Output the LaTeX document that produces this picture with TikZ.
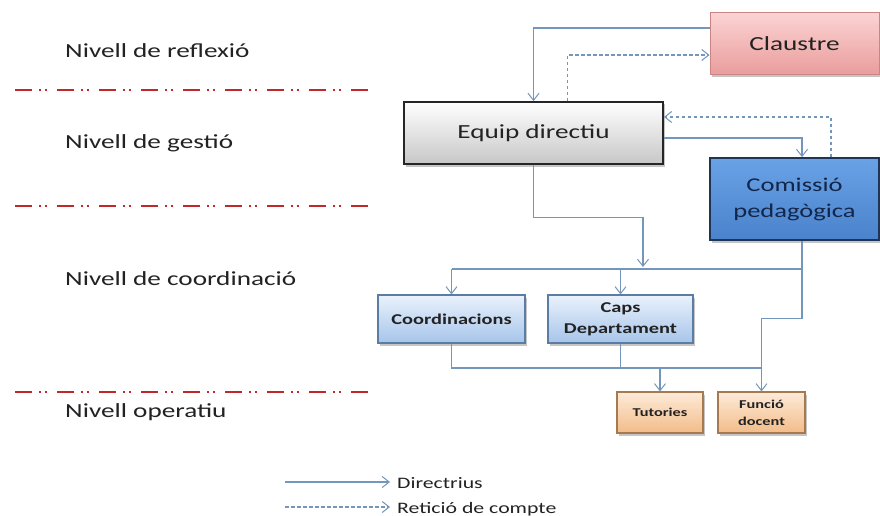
\documentclass[tikz,border=0pt]{standalone}
\usepackage{fontspec}
\setmainfont{Carlito}[FakeStretch=1.36]
\usetikzlibrary{arrows.meta,shadows,calc}
\definecolor{conn}{HTML}{7396BA}
\definecolor{redline}{HTML}{C0282A}
\definecolor{txt}{HTML}{222222}
\definecolor{HTML-C98585}{HTML}{C98585}
\definecolor{HTML-1E3556}{HTML}{1E3556}
\definecolor{HTML-13264A}{HTML}{13264A}
\definecolor{HTML-5B7CA3}{HTML}{5B7CA3}
\definecolor{HTML-A67A4E}{HTML}{A67A4E}
\definecolor{PinkTop}{HTML}{FBD3D3}
\definecolor{PinkBot}{HTML}{EA9C9C}
\definecolor{BlueTop}{HTML}{6AA2E6}
\definecolor{BlueBot}{HTML}{4A82CC}
\definecolor{LBTop}{HTML}{EAF2FC}
\definecolor{LBBot}{HTML}{A6C4EA}
\definecolor{PeachTop}{HTML}{FDEBD9}
\definecolor{PeachBot}{HTML}{F2BC88}
\tikzset{
  lvl/.style={anchor=base west,inner sep=0pt,text=txt,font=\fontsize{20}{24}\selectfont},
  sep/.style={draw=redline,line width=1.8pt,dash pattern=on 17pt off 7pt on 2pt off 4pt on 2pt off 10pt},
  boxbase/.style={rectangle,inner sep=0pt,align=center,drop shadow={shadow xshift=2pt,shadow yshift=-2.5pt,opacity=0.45}},
  pinkbox/.style={boxbase,draw=HTML-C98585,line width=1pt,top color=PinkTop,bottom color=PinkBot,text=txt,font=\fontsize{20}{24}\selectfont},
  graybox/.style={boxbase,draw=black!85,line width=1.8pt,top color=white,bottom color=black!22,text=txt,font=\fontsize{20}{24}\selectfont},
  bluebox/.style={boxbase,draw=HTML-1E3556,line width=1.8pt,top color=BlueTop,bottom color=BlueBot,text=HTML-13264A,font=\fontsize{19.5}{26}\selectfont},
  lbluebox/.style={boxbase,draw=HTML-5B7CA3,line width=1.2pt,top color=LBTop,bottom color=LBBot,text=txt,font=\bfseries\fontsize{15}{21}\selectfont},
  peachbox/.style={boxbase,draw=HTML-A67A4E,line width=1.2pt,top color=PeachTop,bottom color=PeachBot,text=txt,font=\bfseries\fontsize{12}{17}\selectfont},
  conline/.style={draw=conn,line width=1.1pt},
  arr/.style={conline,-{Straight Barb[length=7pt,width=11pt,line width=1pt]}},
  darr/.style={arr,dash pattern=on 3.5pt off 2.5pt},
  legtxt/.style={anchor=base west,inner sep=0pt,text=txt,font=\fontsize{16}{19}\selectfont}
}
\begin{document}
\begin{tikzpicture}[x=1pt,y=-1pt]
\useasboundingbox[fill=white] (0,0) rectangle (880,516);

% level labels
\node[lvl] (lv1) at (65,58) {Nivell de reflexió};
\node[lvl] (lv2) at (65,148) {Nivell de gestió};
\node[lvl] (lv3) at (65,285) {Nivell de coordinació};
\node[lvl] (lv4) at (65,417) {Nivell operatiu};

% separators
\coordinate (s1a) at (15,90);  \coordinate (s1b) at (374,90);
\coordinate (s2a) at (15,206); \coordinate (s2b) at (374,206);
\coordinate (s3a) at (15,392); \coordinate (s3b) at (374,392);
\draw[sep] (s1a) -- (s1b);
\draw[sep] (s2a) -- (s2b);
\draw[sep] (s3a) -- (s3b);

% boxes
\node[pinkbox,minimum width=169pt,minimum height=62pt] (claustre) at (794.5,44) {Claustre};
\node[graybox,minimum width=259pt,minimum height=62pt] (equip) at (533.5,133) {Equip directiu};
\node[bluebox,minimum width=169pt,minimum height=82pt] (comissio) at (794.5,199) {Comissió\\pedagògica};
\node[lbluebox,minimum width=147pt,minimum height=48pt] (coord) at (451.5,319) {Coordinacions};
\node[lbluebox,minimum width=145pt,minimum height=48pt] (caps) at (620.5,319) {Caps\\Departament};
\node[peachbox,minimum width=86pt,minimum height=41pt] (tut) at (660,412.5) {Tutories};
\node[peachbox,minimum width=87pt,minimum height=41pt] (func) at (761.5,412.5) {Funció\\docent};

% connectors
\draw[arr] ([yshift=16pt]claustre.west) -| (equip.north);
\draw[darr] ([xshift=34pt]equip.north) |- ([yshift=-11pt]claustre.west);
\draw[arr] ([yshift=-5pt]equip.east) -| ([xshift=7.5pt]comissio.north);
\draw[darr] ([xshift=36.5pt]comissio.north) |- ([yshift=16pt]equip.east);

\coordinate (bus) at (0,269);
\coordinate (low) at (0,368);
\coordinate (drop) at (643,267);
\draw[arr] (equip.south) -- ++(0,53) -| (drop);
\draw[conline] ([xshift=7.5pt]comissio.south) |- (bus -| coord.north);
\draw[arr] (bus -| coord.north) -- (coord.north);
\draw[arr] (bus -| caps.north) -- (caps.north);
\draw[arr] ([xshift=7.5pt]comissio.south) -- ++(0,78) -| (func.north);
\draw[conline] (coord.south) |- (low -| func.north);
\draw[conline] (caps.south) -- (low -| caps.south);
\draw[arr] (low -| tut.north) -- (tut.north);

% legend
\coordinate (la1) at (285,482); \coordinate (lb1) at (390,482);
\coordinate (la2) at (285,507); \coordinate (lb2) at (390,507);
\draw[arr] (la1) -- (lb1);
\draw[darr] (la2) -- (lb2);
\node[legtxt] (leg1) at (397,488) {Directrius};
\node[legtxt] (leg2) at (397,513) {Retició de compte};
\end{tikzpicture}
\end{document}
